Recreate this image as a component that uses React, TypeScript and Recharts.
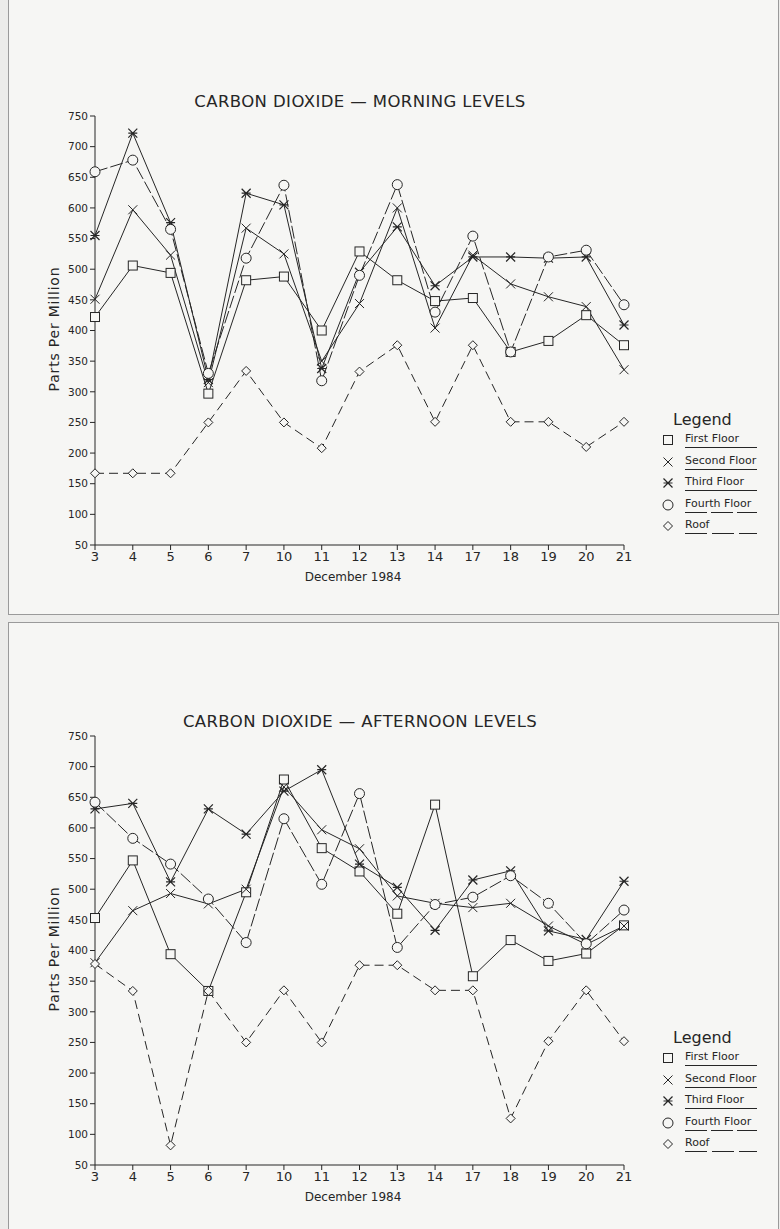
import React from "react";
import { LineChart, Line, XAxis, YAxis } from "recharts";

const INK = "#262626";
const BG = "#f6f6f4";
const FONT = "'DejaVu Sans', sans-serif";

const DAYS = ["3", "4", "5", "6", "7", "10", "11", "12", "13", "14", "17", "18", "19", "20", "21"];
const Y_TICKS = [50, 100, 150, 200, 250, 300, 350, 400, 450, 500, 550, 600, 650, 700, 750];

// morning readings (ppm)
const AM_FIRST = [422, 506, 494, 297, 482, 488, 400, 529, 482, 448, 453, 365, 383, 425, 376];
const AM_SECOND = [451, 597, 523, 315, 567, 525, 350, 444, 600, 404, 523, 476, 455, 439, 336];
const AM_THIRD = [555, 722, 576, 320, 624, 605, 338, 495, 569, 473, 520, 520, 518, 520, 409];
const AM_FOURTH = [659, 678, 565, 330, 518, 637, 318, 490, 638, 430, 554, 365, 520, 531, 442];
const AM_ROOF = [167, 167, 167, 250, 334, 250, 208, 333, 376, 251, 376, 251, 251, 210, 251];

// afternoon readings (ppm)
const PM_FIRST = [453, 547, 394, 334, 495, 679, 567, 529, 460, 638, 358, 417, 383, 395, 441];
const PM_SECOND = [380, 465, 493, 476, 500, 667, 597, 566, 489, 477, 470, 477, 440, 410, 440];
const PM_THIRD = [631, 640, 512, 631, 590, 660, 695, 541, 503, 433, 515, 530, 432, 418, 513];
const PM_FOURTH = [642, 583, 541, 484, 413, 615, 508, 656, 405, 475, 487, 522, 477, 411, 466];
const PM_ROOF = [378, 334, 82, 334, 250, 335, 250, 376, 376, 335, 335, 126, 252, 335, 252];

const SERIES = [
  { key: "first", name: "First Floor", shape: "square", dash: undefined as string | undefined, under: undefined as string | undefined },
  { key: "second", name: "Second Floor", shape: "x", dash: undefined, under: undefined },
  { key: "third", name: "Third Floor", shape: "star", dash: undefined, under: undefined },
  { key: "fourth", name: "Fourth Floor", shape: "circle", dash: "13 3", under: "22 4" },
  { key: "roof", name: "Roof", shape: "diamond", dash: "9 5", under: "22 5" },
];

const buildRows = (first: number[], second: number[], third: number[], fourth: number[], roof: number[]) =>
  DAYS.map((day, i) => ({
    day,
    first: first[i],
    second: second[i],
    third: third[i],
    fourth: fourth[i],
    roof: roof[i],
  }));

const Marker = ({ shape, cx, cy }: any) => {
  if (cx == null || cy == null) return null;
  const s = 4.5;
  if (shape === "square")
    return <rect x={cx - s} y={cy - s} width={2 * s} height={2 * s} fill={BG} stroke={INK} strokeWidth={1} />;
  if (shape === "circle") return <circle cx={cx} cy={cy} r={5} fill={BG} stroke={INK} strokeWidth={1} />;
  if (shape === "diamond")
    return (
      <path
        d={`M${cx},${cy - s}L${cx + s},${cy}L${cx},${cy + s}L${cx - s},${cy}Z`}
        fill={BG}
        stroke={INK}
        strokeWidth={1}
      />
    );
  const x = `M${cx - s},${cy - s}L${cx + s},${cy + s}M${cx - s},${cy + s}L${cx + s},${cy - s}`;
  if (shape === "star")
    return <path d={`${x}M${cx - s},${cy}L${cx + s},${cy}`} fill="none" stroke={INK} strokeWidth={1.2} />;
  return <path d={x} fill="none" stroke={INK} strokeWidth={1} />;
};

const LegendBox = ({ top }: { top: number }) => (
  <div style={{ position: "absolute", left: 660, top, width: 110, fontFamily: FONT, color: INK }}>
    <div style={{ position: "absolute", left: 13, top: 0, fontSize: 16, lineHeight: "20px" }}>Legend</div>
    {SERIES.map((s, i) => (
      <div key={s.key} style={{ position: "absolute", left: 0, top: 20 + i * 21.6, height: 20, width: 110 }}>
        <svg width={16} height={16} style={{ position: "absolute", left: 0, top: 2 }}>
          <Marker shape={s.shape} cx={8} cy={8} />
        </svg>
        <div style={{ position: "absolute", left: 25, top: 3, fontSize: 11, lineHeight: "12px", whiteSpace: "nowrap" }}>
          {s.name}
        </div>
        <svg width={75} height={3} style={{ position: "absolute", left: 25, top: 16 }}>
          <line x1={0} y1={1.5} x2={72} y2={1.5} stroke={INK} strokeWidth={1} strokeDasharray={s.under} />
        </svg>
      </div>
    ))}
  </div>
);

const Panel = ({ top, height }: any) => (
  <div
    style={{
      position: "absolute",
      left: 8,
      top,
      width: 771,
      height,
      border: "1px solid #9a9a9a",
      background: BG,
      boxSizing: "border-box",
    }}
  />
);

const Chart = ({ top, title, data }: any) => (
  <div style={{ position: "absolute", left: 0, top, width: 780, height: 612 }}>
    <div
      style={{
        position: "absolute",
        left: 0,
        width: 720,
        top: 92,
        textAlign: "center",
        fontFamily: FONT,
        fontSize: 16.5,
        color: INK,
        letterSpacing: 0.4,
      }}
    >
      {title}
    </div>
    <div
      style={{
        position: "absolute",
        left: 54 - 80,
        top: 330 - 9,
        width: 160,
        textAlign: "center",
        transform: "rotate(-90deg)",
        fontFamily: FONT,
        fontSize: 14,
        letterSpacing: 0.8,
        color: INK,
      }}
    >
      Parts Per Million
    </div>
    <div
      style={{
        position: "absolute",
        left: 283,
        top: 570,
        width: 140,
        textAlign: "center",
        fontFamily: FONT,
        fontSize: 12,
        color: INK,
      }}
    >
      December 1984
    </div>
    <div style={{ position: "absolute", left: 0, top: 0 }}>
      <LineChart width={780} height={612} data={data} margin={{ top: 116, right: 156, bottom: 37, left: 55 }}>
        <XAxis
          dataKey="day"
          interval={0}
          tickSize={5}
          height={30}
          padding={{ left: 0, right: 0 }}
          axisLine={{ stroke: INK }}
          tickLine={{ stroke: INK }}
          tick={{ fontSize: 13, fill: INK, fontFamily: FONT }}
        />
        <YAxis
          domain={[50, 750]}
          ticks={Y_TICKS}
          interval={0}
          width={40}
          tickSize={5}
          axisLine={{ stroke: INK }}
          tickLine={{ stroke: INK }}
          tick={{ fontSize: 10.5, fill: INK, fontFamily: FONT }}
        />
        {SERIES.map((s) => (
          <Line
            key={s.key}
            dataKey={s.key}
            name={s.name}
            type="linear"
            stroke={INK}
            strokeWidth={1}
            strokeDasharray={s.dash}
            isAnimationActive={false}
            dot={(p: any) => <Marker key={`${s.key}-${p.index}`} shape={s.shape} cx={p.cx} cy={p.cy} />}
            activeDot={false}
          />
        ))}
      </LineChart>
    </div>
  </div>
);

export default function App() {
  const morning = buildRows(AM_FIRST, AM_SECOND, AM_THIRD, AM_FOURTH, AM_ROOF);
  const afternoon = buildRows(PM_FIRST, PM_SECOND, PM_THIRD, PM_FOURTH, PM_ROOF);
  return (
    <div style={{ position: "absolute", left: 0, top: 0, width: 780, height: 1229, background: "#ececea", overflow: "hidden" }}>
      <Panel top={-1} height={616} />
      <Panel top={622} height={610} />
      <Chart top={0} title="CARBON DIOXIDE — MORNING LEVELS" data={morning} />
      <LegendBox top={410} />
      <Chart top={620} title="CARBON DIOXIDE — AFTERNOON LEVELS" data={afternoon} />
      <LegendBox top={1028} />
    </div>
  );
}
